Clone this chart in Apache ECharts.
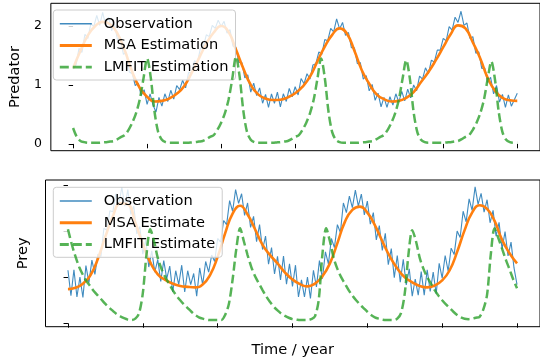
<!DOCTYPE html>
<html>
<head>
<meta charset="utf-8">
<script src="https://cdn.jsdelivr.net/npm/echarts@6/dist/echarts.min.js"></script>
<style>
  html, body { margin: 0; padding: 0; background: #fff; }
  #chart { width: 540px; height: 362px; }
</style>
</head>
<body>
<div id="chart"></div>
<script>
// Sampling steps (years) of each series
const OBS_STEP = 0.4;
const MSA_STEP = 1;
const LMFIT_STEP = 0.5;

// Axis ticks
const timeTicks = [0, 10, 20, 30, 40, 50, 60];
const predatorTicks = [0, 1, 2];
const preyTicks = [0, 1, 2, 3];

// Predator: noisy observation
const predatorObs = [
  1.27,1.34,1.62,1.55,1.86,1.79,2.04,1.99,2.18,2.01,
  2.23,2.01,2.15,1.92,2.03,1.77,1.80,1.52,1.55,1.22,
  1.19,0.99,1.03,0.82,0.92,0.67,0.85,0.66,0.54,0.79,
  0.64,0.85,0.72,0.91,0.76,0.99,0.92,1.08,0.95,1.21,
  1.21,1.41,1.38,1.62,1.65,1.85,1.82,2.01,1.96,2.10,
  1.99,2.08,1.88,1.94,1.66,1.63,1.38,1.38,1.12,1.17,
  0.88,1.03,0.82,0.95,0.69,0.84,0.62,0.85,0.69,0.88,
  0.63,0.85,0.72,0.94,0.80,0.97,0.83,1.11,1.02,1.19,
  1.10,1.34,1.36,1.56,1.52,1.77,1.75,1.96,1.90,2.12,
  1.95,2.06,1.84,1.89,1.63,1.63,1.36,1.38,1.10,1.16,
  0.90,1.01,0.74,0.86,0.63,0.79,0.62,0.80,0.66,0.85,
  0.71,0.89,0.73,0.93,0.78,1.00,0.90,1.15,1.10,1.29,
  1.19,1.42,1.39,1.59,1.59,1.79,1.75,1.99,1.93,2.15,
  2.06,2.25,2.01,2.05,1.79,1.82,1.54,1.56,1.28,1.29,
  1.04,1.13,0.85,0.99,0.71,0.84,0.62,0.83,0.64,0.75,
  0.86
];

// Predator: MSA estimation
const predatorMsa = [
  1.28,1.58,1.84,2.00,2.07,2.03,1.87,1.58,1.22,0.95,
  0.80,0.72,0.73,0.77,0.85,0.98,1.20,1.45,1.70,1.89,
  2.00,1.90,1.60,1.28,1.00,0.84,0.77,0.745,0.75,0.79,
  0.86,0.97,1.14,1.40,1.65,1.85,1.96,1.87,1.58,1.25,
  1.02,0.84,0.76,0.72,0.73,0.78,0.88,1.05,1.22,1.42,
  1.64,1.86,2.01,1.96,1.72,1.45,1.12,0.90,0.78,0.74,
  0.73
];

// Predator: LMFIT estimation
const predatorLmfit = [
  0.27,0.12,0.05,0.03,0.02,0.02,0.02,0.02,0.025,0.03,
  0.04,0.05,0.08,0.12,0.15,0.24,0.36,0.52,0.75,1.10,
  1.45,1.12,0.55,0.20,0.07,0.03,0.02,0.02,0.02,0.02,
  0.02,0.02,0.025,0.03,0.04,0.05,0.08,0.12,0.15,0.24,
  0.36,0.52,0.75,1.10,1.48,1.14,0.56,0.20,0.07,0.03,
  0.02,0.02,0.02,0.02,0.02,0.025,0.03,0.04,0.05,0.08,
  0.12,0.15,0.24,0.36,0.52,0.75,1.10,1.45,1.12,0.55,
  0.20,0.07,0.03,0.02,0.02,0.02,0.02,0.02,0.025,0.03,
  0.04,0.05,0.08,0.12,0.15,0.24,0.36,0.52,0.75,1.10,
  1.42,1.10,0.54,0.20,0.07,0.03,0.02,0.02,0.02,0.02,
  0.02,0.025,0.03,0.04,0.05,0.08,0.12,0.15,0.24,0.36,
  0.52,0.75,1.10,1.40,1.08,0.54,0.20,0.07,0.03,0.02,
  0.02
];

// Prey: noisy observation
const preyObs = [
  1.15,0.60,1.16,0.57,1.00,0.56,1.25,0.88,1.37,1.06,
  1.50,1.45,2.06,2.02,2.44,2.42,2.81,2.59,2.95,2.54,
  2.90,2.36,2.54,1.94,2.10,1.50,1.81,1.22,1.57,1.11,
  1.38,0.91,1.36,0.97,1.24,0.68,1.14,0.84,1.26,0.68,
  1.14,0.84,1.08,0.59,1.20,0.84,1.34,1.11,1.48,1.34,
  1.84,1.76,2.23,2.14,2.66,2.43,2.90,2.60,2.81,2.34,
  2.61,2.08,2.32,1.77,2.14,1.60,1.89,1.28,1.64,1.07,
  1.45,0.94,1.46,0.85,1.29,0.80,1.26,0.57,0.94,0.57,
  1.00,0.54,1.15,0.79,1.36,0.97,1.55,1.29,1.84,1.64,
  2.14,1.97,2.61,2.40,2.76,2.51,2.89,2.54,2.80,2.35,
  2.65,2.15,2.40,1.81,2.12,1.58,1.95,1.27,1.62,0.99,
  1.47,0.89,1.39,0.83,1.18,0.59,0.96,0.61,1.12,0.61,
  1.16,0.69,1.11,0.64,1.30,0.98,1.47,1.13,1.63,1.49,
  2.00,1.86,2.43,2.20,2.70,2.45,2.96,2.58,2.82,2.41,
  2.68,2.18,2.45,1.89,2.19,1.61,1.99,1.46,1.76,1.20,
  0.84
];

// Prey: MSA estimate
const preyMsa = [
  0.74,0.77,0.86,1.04,1.40,1.88,2.32,2.60,2.58,2.18,
  1.72,1.32,1.06,0.94,0.86,0.81,0.79,0.78,0.84,1.05,
  1.44,1.95,2.38,2.55,2.36,2.04,1.70,1.48,1.30,1.10,
  0.95,0.85,0.80,0.86,1.02,1.30,1.74,2.20,2.46,2.53,
  2.40,2.13,1.78,1.45,1.19,1.00,0.89,0.81,0.78,0.82,
  0.93,1.15,1.55,2.02,2.40,2.56,2.48,2.22,1.81,1.52,
  1.30
];

// Prey: LMFIT estimate
const preyLmfit = [
  2.04,1.72,1.45,1.22,1.05,0.91,0.80,0.69,0.60,0.51,
  0.42,0.34,0.27,0.20,0.15,0.11,0.08,0.07,0.10,0.22,
  0.65,1.50,2.04,1.78,1.42,1.18,1.00,0.86,0.72,0.60,
  0.50,0.41,0.33,0.25,0.18,0.13,0.10,0.08,0.07,0.07,
  0.07,0.07,0.18,0.42,0.95,1.62,2.06,1.78,1.48,1.22,
  1.02,0.87,0.72,0.58,0.46,0.36,0.28,0.21,0.16,0.12,
  0.09,0.08,0.07,0.07,0.07,0.09,0.15,0.50,1.50,2.06,
  1.78,1.42,1.18,1.00,0.86,0.72,0.60,0.50,0.41,0.33,
  0.25,0.18,0.13,0.10,0.08,0.07,0.07,0.07,0.10,0.22,
  0.65,1.50,2.02,1.78,1.42,1.18,1.00,0.86,0.72,0.60,
  0.50,0.41,0.33,0.25,0.18,0.13,0.10,0.09,0.10,0.12,
  0.14,0.30,0.62,1.50,2.06,1.85,1.62,1.38,1.17,0.95,
  0.76
];

const FONT = 'DejaVu Sans';
const BLUE = '#1f77b4', ORANGE = '#ff7f0e', GREEN = '#2ca02c';

const OBS_LINE = { color: BLUE, width: 1.1, opacity: 0.85 };
const MSA_LINE = { color: ORANGE, width: 2.6 };
const LMFIT_LINE = { color: GREEN, width: 2.5, type: [9, 4], opacity: 0.8 };

function toPairs(values, step) {
  return values.map((v, i) => [+(i * step).toFixed(3), v]);
}

const tickStyle = { show: true, inside: false, length: 4.4, lineStyle: { color: '#000', width: 1 } };

function timeAxis(gridIndex, extra) {
  return Object.assign({
    gridIndex, type: 'value', min: -3, max: 63.07,
    axisLine: { show: false },
    axisTick: Object.assign({}, tickStyle, { customValues: timeTicks }),
    axisLabel: { show: false },
    splitLine: { show: false }
  }, extra || {});
}

// Legend with plain line handles (the marker dot is hidden)
function legendBox(top, names) {
  const handleStyles = [
    { color: BLUE, width: 1.5, opacity: 0.85 },
    { color: ORANGE, width: 3 },
    { color: GREEN, width: 2.8, type: [9, 4], opacity: 0.8 }
  ];
  return {
    orient: 'vertical', left: 53.3, top: top,
    data: names.map((n, i) => ({ name: n, lineStyle: handleStyles[i] })),
    selectedMode: false,
    itemWidth: 32, itemHeight: 16, itemGap: 5.7,
    padding: [5.8, 7, 4.8, 5],
    backgroundColor: 'rgba(255,255,255,0.8)',
    borderColor: '#cccccc', borderWidth: 1, borderRadius: 3,
    itemStyle: { opacity: 0 },
    textStyle: { fontFamily: FONT, fontSize: 14.6, color: '#000', lineHeight: 16, padding: [0, 0, 0, 7] }
  };
}

function lineSeries(name, gridIdx, data, kind) {
  const s = {
    type: 'line', name, xAxisIndex: gridIdx, yAxisIndex: gridIdx,
    data, symbol: 'none', showSymbol: false, animation: false
  };
  if (kind === 'obs') {
    s.lineStyle = OBS_LINE;
    s.itemStyle = { color: BLUE };
    s.z = 2;
  } else if (kind === 'msa') {
    s.lineStyle = MSA_LINE;
    s.itemStyle = { color: ORANGE };
    s.smooth = 0.5;
    s.z = 3;
  } else {
    s.lineStyle = LMFIT_LINE;
    s.itemStyle = { color: GREEN };
    s.smooth = 0.3;
    s.z = 4;
  }
  return s;
}

const chart = echarts.init(document.getElementById('chart'), null, { renderer: 'canvas' });
chart.setOption({
  animation: false,
  backgroundColor: '#fff',
  grid: [
    { left: 45.5, top: 3.3, width: 500.5, height: 147.4, show: true, borderColor: '#000', borderWidth: 1 },
    { left: 45.5, top: 180, width: 500.5, height: 146.7, show: true, borderColor: '#000', borderWidth: 1 }
  ],
  xAxis: [
    timeAxis(0),
    timeAxis(1, {
      name: 'Time / year', nameLocation: 'middle', nameGap: 16,
      nameTextStyle: { fontFamily: FONT, fontSize: 14.6, color: '#000' }
    })
  ],
  yAxis: [
    {
      gridIndex: 0, type: 'value', min: -0.115, max: 2.385,
      axisLine: { show: false },
      axisTick: Object.assign({}, tickStyle, { customValues: predatorTicks }),
      axisLabel: { customValues: predatorTicks, fontFamily: FONT, fontSize: 12.5, color: '#000', margin: 9 },
      splitLine: { show: false },
      name: 'Predator', nameLocation: 'middle', nameGap: 25,
      nameTextStyle: { fontFamily: FONT, fontSize: 14.6, color: '#000' }
    },
    {
      gridIndex: 1, type: 'value', min: -0.074, max: 3.108,
      axisLine: { show: false },
      axisTick: Object.assign({}, tickStyle, { customValues: preyTicks }),
      axisLabel: { show: false },
      splitLine: { show: false },
      name: 'Prey', nameLocation: 'middle', nameGap: 15,
      nameTextStyle: { fontFamily: FONT, fontSize: 14.6, color: '#000' }
    }
  ],
  legend: [
    legendBox(10, ['Observation', 'MSA Estimation', 'LMFIT Estimation']),
    legendBox(187.3, ['Observation', 'MSA Estimate', 'LMFIT Estimate'])
  ],
  series: [
    lineSeries('Observation', 0, toPairs(predatorObs, OBS_STEP), 'obs'),
    lineSeries('MSA Estimation', 0, toPairs(predatorMsa, MSA_STEP), 'msa'),
    lineSeries('LMFIT Estimation', 0, toPairs(predatorLmfit, LMFIT_STEP), 'lmfit'),
    lineSeries('Observation', 1, toPairs(preyObs, OBS_STEP), 'obs'),
    lineSeries('MSA Estimate', 1, toPairs(preyMsa, MSA_STEP), 'msa'),
    lineSeries('LMFIT Estimate', 1, toPairs(preyLmfit, LMFIT_STEP), 'lmfit')
  ]
});
</script>
</body>
</html>
